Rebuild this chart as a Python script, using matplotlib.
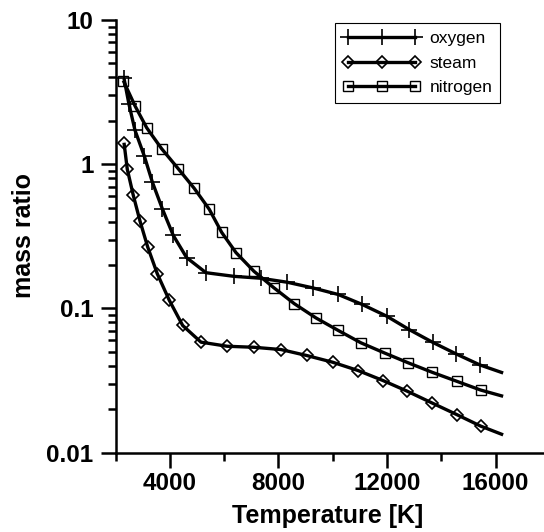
import matplotlib
matplotlib.use("Agg")
import matplotlib.pyplot as plt
from matplotlib.lines import Line2D
from matplotlib.ticker import LogLocator, NullFormatter

# values (temperature in K, mass ratio)
# last point of each series is the end of the curve (no marker)
T_oxygen = [2306, 2490, 2711, 3054, 3349, 3717, 4122, 4616, 5327, 6359, 7343,
            8323, 9259, 10202, 11086, 11985, 12818, 13680, 14539, 15423, 16281]
oxygen = [3.94, 2.60, 1.72, 1.14, 0.754, 0.492, 0.321, 0.225, 0.177, 0.167, 0.162,
          0.152, 0.139, 0.125, 0.1066, 0.0885, 0.0714, 0.0583, 0.0485, 0.0406, 0.0357]

T_steam = [2306, 2427, 2648, 2895, 3179, 3533, 3975, 4469, 5143, 6112, 7107,
           8091, 9038, 9996, 10939, 11860, 12744, 13665, 14565, 15449, 16281]
steam = [1.41, 0.923, 0.609, 0.404, 0.267, 0.174, 0.114, 0.0762, 0.0584, 0.0547, 0.0538,
         0.0519, 0.0472, 0.0424, 0.0371, 0.0316, 0.0267, 0.0221, 0.0184, 0.0153, 0.0133]

T_nitrogen = [2280, 2711, 3142, 3695, 4307, 4896, 5449, 5906, 6433, 7096, 7833,
              8581, 9380, 10202, 11038, 11923, 12781, 13665, 14565, 15449, 16281]
nitrogen = [3.8, 2.54, 1.79, 1.28, 0.93, 0.68, 0.487, 0.337, 0.244, 0.181, 0.139,
            0.108, 0.086, 0.0704, 0.0578, 0.049, 0.042, 0.0361, 0.0313, 0.0272, 0.0246]

series = [
    ("oxygen", T_oxygen, oxygen, "+", 11, 1.2),
    ("steam", T_steam, steam, "D", 6, 1.2),
    ("nitrogen", T_nitrogen, nitrogen, "s", 7.5, 1.0),
]

plt.rcParams["font.family"] = ["Liberation Sans", "DejaVu Sans"]

W, H = 544, 532
fig = plt.figure(figsize=(W / 100, H / 100), dpi=100)
left, right, top, bottom = 115.7, 543, 20, 452.7
ax = fig.add_axes([left / W, 1 - bottom / H, (right - left) / W, (bottom - top) / H])

handles = []
for name, T, v, mk, ms, mew in series:
    ax.plot(T, v, color="black", lw=2.4, solid_capstyle="butt")
    ax.plot(T[:-1], v[:-1], ls="none", marker=mk, ms=ms, mew=mew,
            mec="black", mfc="none")
    handles.append(Line2D([], [], color="black", lw=2.4, marker=mk, ms=ms,
                          mew=mew, mec="black", mfc="none", label=name))

ax.set_yscale("log")
ax.set_xlim(2000, 17750)
ax.set_ylim(0.01, 10)

ax.set_xticks([4000, 8000, 12000, 16000])
ax.set_xticks([2000, 6000, 10000, 14000], minor=True)
ax.set_yticks([0.01, 0.1, 1, 10], labels=["0.01", "0.1", "1", "10"])
ax.yaxis.set_minor_locator(LogLocator(base=10, subs=range(2, 10)))
ax.yaxis.set_minor_formatter(NullFormatter())

for s in ("top", "right"):
    ax.spines[s].set_visible(False)
for s in ("left", "bottom"):
    ax.spines[s].set_linewidth(1.8)

ax.tick_params(which="major", direction="out", length=11, width=1.8,
               labelsize=17.5, pad=3)
ax.tick_params(which="minor", direction="out", length=6, width=1.8)
ax.tick_params(axis="y", which="major", pad=5)
for lab in ax.get_xticklabels() + ax.get_yticklabels():
    lab.set_fontweight("bold")

fig.text(24 / W, 1 - 235 / H, "mass ratio", rotation=90, ha="center",
         va="center", fontsize=18, fontweight="bold")
fig.text(328 / W, 1 - 516 / H, "Temperature [K]", ha="center", va="center",
         fontsize=18, fontweight="bold")

leg = ax.legend(handles=handles, loc="upper right", fontsize=12.5,
                bbox_to_anchor=(500 / W, 1 - 23 / H),
                bbox_transform=fig.transFigure, borderaxespad=0,
                numpoints=3, handlelength=4.5, handletextpad=0.5,
                labelspacing=0.55, borderpad=0.45, fancybox=False,
                framealpha=1)
leg.get_frame().set_edgecolor("black")
leg.get_frame().set_linewidth(0.8)

fig.savefig("out.png", dpi=100)
